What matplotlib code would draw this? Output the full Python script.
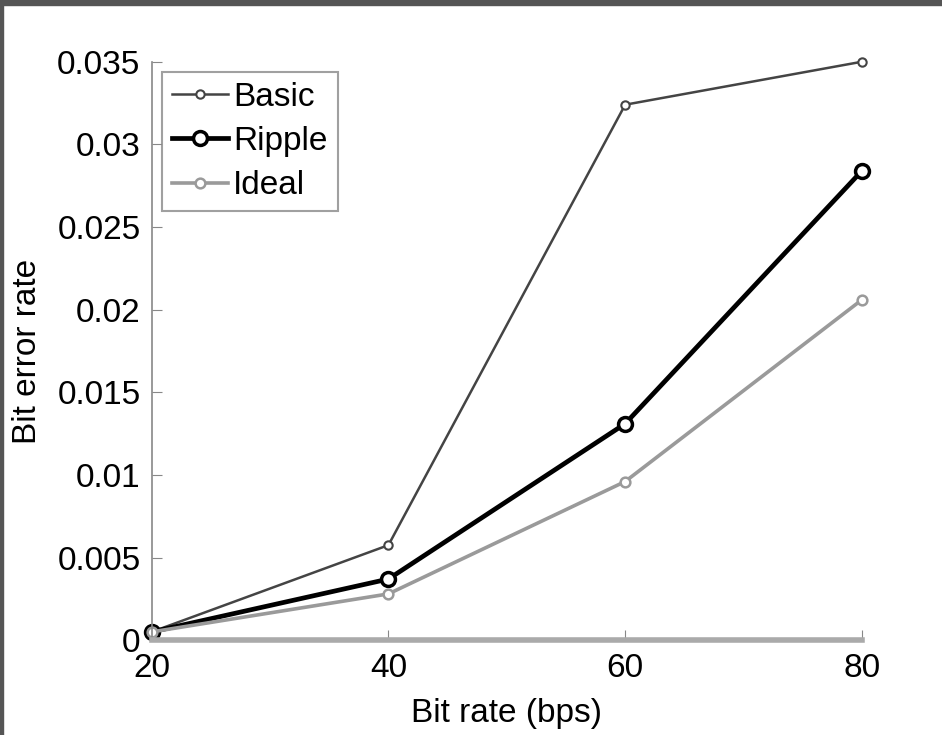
import numpy as np
import matplotlib.pyplot as plt
from matplotlib.patches import Rectangle

# datos
bit_rate = [20, 40, 60, 80]
basic = [0.0005, 0.00575, 0.0324, 0.0350]
ripple = [0.0005, 0.0037, 0.0131, 0.0284]
ideal = [0.0005, 0.0028, 0.0096, 0.0206]
yticks = [0, 0.005, 0.01, 0.015, 0.02, 0.025, 0.03, 0.035]
ytick_labels = ['0', '0.005', '0.01', '0.015', '0.02', '0.025', '0.03', '0.035']

plt.rcParams['font.family'] = ['Liberation Sans', 'DejaVu Sans']

fig = plt.figure(figsize=(9.42, 7.35), dpi=100)
ax = fig.add_axes([0.161, 0.129, 0.754, 0.787])

ax.plot(bit_rate, basic, color='#444444', lw=1.8, marker='o', ms=6,
        mfc='white', mec='#444444', mew=1.5, label='Basic', clip_on=False)
ax.plot(bit_rate, ripple, color='black', lw=3.4, marker='o', ms=10,
        mfc='white', mec='black', mew=2.5, label='Ripple', clip_on=False)
ax.plot(bit_rate, ideal, color='#9a9a9a', lw=2.6, marker='o', ms=7,
        mfc='white', mec='#9a9a9a', mew=1.8, label='Ideal', clip_on=False)

ax.set_xlim(20, 80)
ax.set_ylim(0, 0.035)
ax.set_xticks(bit_rate)
ax.set_yticks(yticks)
ax.set_yticklabels(ytick_labels)
ax.tick_params(direction='in', labelsize=24, length=7, color='#888888')
ax.tick_params(axis='y', pad=8)
ax.tick_params(axis='x', pad=9)
ax.spines['top'].set_visible(False)
ax.spines['right'].set_visible(False)
ax.spines['left'].set_color('#888888')
ax.spines['left'].set_linewidth(1.2)
ax.spines['bottom'].set_color('#aaaaaa')
ax.spines['bottom'].set_linewidth(4)

ax.set_xlabel('Bit rate (bps)', fontsize=24, labelpad=10)
ax.set_ylabel('Bit error rate', fontsize=24, labelpad=10)

leg = ax.legend(loc='upper left', fontsize=24, frameon=True, fancybox=False,
                handlelength=1.7, handletextpad=0.15, borderpad=0.3,
                labelspacing=0.4, borderaxespad=0.3)
leg.get_frame().set_edgecolor('#888888')
leg.get_frame().set_linewidth(1.5)

# marco gris oscuro de la captura
fig.add_artist(Rectangle((0, 1 - 5 / 735), 1, 5 / 735, transform=fig.transFigure,
                         color='#555555', zorder=10))
fig.add_artist(Rectangle((0, 0), 3 / 942, 1, transform=fig.transFigure,
                         color='#555555', zorder=10))

fig.savefig('out.png', dpi=100)
